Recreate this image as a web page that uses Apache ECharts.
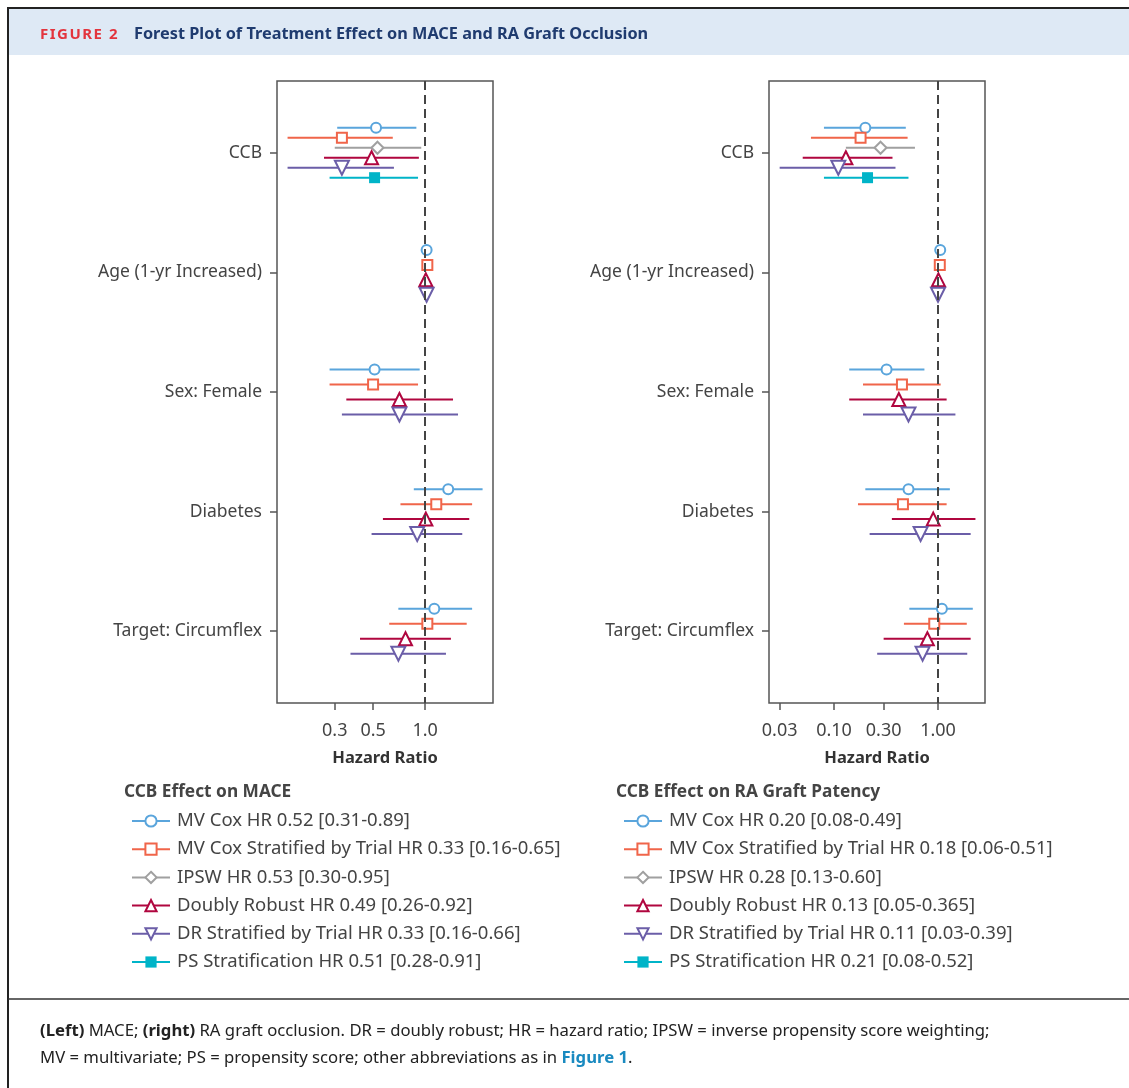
<!DOCTYPE html>
<html>
<head>
<meta charset="utf-8">
<script src="https://cdn.jsdelivr.net/npm/echarts@6/dist/echarts.min.js"></script>
<style>
  html, body { margin: 0; padding: 0; background: #fff; }
  #chart { width: 1129px; height: 1088px; }
</style>
</head>
<body>
<div id="chart"></div>
<script>
// rows: categories top to bottom
var categories = ['CCB', 'Age (1-yr Increased)', 'Sex: Female', 'Diabetes', 'Target: Circumflex'];

// each entry is [HR, lower, upper] per category, null = not shown
var maceMvCox      = [[0.52, 0.31, 0.89], [1.02, 1.01, 1.03], [0.51, 0.28, 0.93], [1.36, 0.86, 2.15], [1.13, 0.70, 1.87]];
var maceMvCoxTrial = [[0.33, 0.16, 0.65], [1.03, 1.02, 1.04], [0.50, 0.28, 0.91], [1.16, 0.72, 1.87], [1.03, 0.62, 1.74]];
var maceIpsw       = [[0.53, 0.30, 0.95], null, null, null, null];
var maceDr         = [[0.49, 0.26, 0.92], [1.01, 1.00, 1.02], [0.71, 0.35, 1.45], [1.01, 0.57, 1.80], [0.77, 0.42, 1.41]];
var maceDrTrial    = [[0.33, 0.16, 0.66], [1.02, 1.01, 1.03], [0.71, 0.33, 1.55], [0.90, 0.49, 1.64], [0.70, 0.37, 1.32]];
var macePs         = [[0.51, 0.28, 0.91], null, null, null, null];

var raMvCox      = [[0.20, 0.08, 0.49], [1.05, 1.03, 1.07], [0.32, 0.14, 0.74], [0.52, 0.20, 1.30], [1.09, 0.53, 2.16]];
var raMvCoxTrial = [[0.18, 0.06, 0.51], [1.04, 1.02, 1.06], [0.45, 0.19, 1.06], [0.46, 0.17, 1.21], [0.92, 0.47, 1.89]];
var raIpsw       = [[0.28, 0.13, 0.60], null, null, null, null];
var raDr         = [[0.13, 0.05, 0.365], [1.01, 0.99, 1.03], [0.42, 0.14, 1.21], [0.90, 0.36, 2.29], [0.79, 0.30, 2.06]];
var raDrTrial    = [[0.11, 0.03, 0.39], [1.00, 0.98, 1.02], [0.52, 0.19, 1.47], [0.68, 0.22, 2.06], [0.71, 0.26, 1.91]];
var raPs         = [[0.21, 0.08, 0.52], null, null, null, null];

var maceLegend = [
  'MV Cox HR 0.52 [0.31-0.89]',
  'MV Cox Stratified by Trial HR 0.33 [0.16-0.65]',
  'IPSW HR 0.53 [0.30-0.95]',
  'Doubly Robust HR 0.49 [0.26-0.92]',
  'DR Stratified by Trial HR 0.33 [0.16-0.66]',
  'PS Stratification HR 0.51 [0.28-0.91]'
];
var raLegend = [
  'MV Cox HR 0.20 [0.08-0.49]',
  'MV Cox Stratified by Trial HR 0.18 [0.06-0.51]',
  'IPSW HR 0.28 [0.13-0.60]',
  'Doubly Robust HR 0.13 [0.05-0.365]',
  'DR Stratified by Trial HR 0.11 [0.03-0.39]',
  'PS Stratification HR 0.21 [0.08-0.52]'
];

var maceTicks = [0.3, 0.5, 1.0];
var raTicks = [0.03, 0.10, 0.30, 1.00];

var FONT = 'Noto Sans';

// marker look per method
var styles = [
  { color: '#5aa5dc', symbol: 'emptyCircle', size: 10, rotate: 0 },
  { color: '#f0654a', symbol: 'emptyRect', size: 10, rotate: 0 },
  { color: '#a0a0a0', symbol: 'emptyDiamond', size: 12, rotate: 0 },
  { color: '#b0063f', symbol: 'emptyTriangle', size: 13, rotate: 0 },
  { color: '#6b5ea8', symbol: 'emptyTriangle', size: 14, rotate: 180 },
  { color: '#00b4c8', symbol: 'rect', size: 11, rotate: 0 }
];

function makeSeries(rows, names, idx) {
  var out = [];
  // dashed reference at HR = 1
  out.push({
    type: 'line', xAxisIndex: idx, yAxisIndex: idx, data: [], z: 1, silent: true,
    markLine: {
      silent: true, symbol: 'none', label: { show: false },
      lineStyle: { color: '#444', width: 2, type: [9, 5] },
      data: [{ xAxis: 1 }]
    }
  });
  rows.forEach(function (row, m) {
    var st = styles[m];
    var data = [];
    categories.forEach(function (c, ci) {
      if (!row[ci]) return;
      // dodge inside the category band
      var present = rows.filter(function (r) { return r[ci]; });
      var n = present.length;
      var k = present.indexOf(row);
      var y = ci + (k - (n - 1) / 2) * (0.5 / n);
      data.push({ value: [row[ci][1], y], symbol: 'none' });
      data.push({ value: [row[ci][0], y] });
      data.push({ value: [row[ci][2], y], symbol: 'none' });
      data.push(['-', '-']);
    });
    out.push({
      type: 'line', name: names[m], xAxisIndex: idx, yAxisIndex: idx, z: 2,
      data: data, symbol: st.symbol, symbolSize: st.size, symbolRotate: st.rotate,
      showSymbol: true, showAllSymbol: true, connectNulls: false,
      color: st.color,
      lineStyle: { color: st.color, width: 2 },
      itemStyle: { color: st.color, borderWidth: 2 },
      emphasis: { disabled: true },
      animation: false
    });
  });
  return out;
}

function xAxisFor(idx, min, max, ticks, digits) {
  return {
    type: 'log', logBase: 10, gridIndex: idx, min: min, max: max,
    name: 'Hazard Ratio', nameLocation: 'middle', nameGap: 47,
    nameTextStyle: { fontFamily: FONT, fontSize: 16.5, fontWeight: 'bold', color: '#333' },
    axisLine: { show: false, onZero: false },
    axisTick: { show: true, length: 7, customValues: ticks, lineStyle: { color: '#555', width: 1.5 } },
    axisLabel: {
      customValues: ticks, margin: 19, fontFamily: FONT, fontSize: 18, color: '#444',
      formatter: function (v) { return Number(v).toFixed(digits); }
    },
    splitLine: { show: false }, minorTick: { show: false }
  };
}

function yAxisFor(idx) {
  var idxs = categories.map(function (c, i) { return i; });
  return {
    type: 'value', gridIndex: idx, min: -0.6, max: 4.6, inverse: true,
    axisLine: { show: false, onZero: false },
    axisTick: { show: true, length: 7, customValues: idxs, lineStyle: { color: '#555', width: 1.5 } },
    axisLabel: {
      customValues: idxs, margin: 15, fontFamily: FONT, fontSize: 17.5, color: '#444',
      formatter: function (v) { return categories[Math.round(v)]; }
    },
    splitLine: { show: false }
  };
}

function legendFor(left, names) {
  return {
    orient: 'vertical', left: left, top: 806, padding: 5,
    data: names, selectedMode: false,
    itemWidth: 38, itemHeight: 14, itemGap: 8.2,
    textStyle: { fontFamily: FONT, fontSize: 18.5, color: '#444', lineHeight: 20, padding: [0, 0, 0, 2] }
  };
}

var chart = echarts.init(document.getElementById('chart'));

var option = {
  animation: false,
  backgroundColor: '#fff',
  grid: [
    { left: 277, top: 81, width: 216, height: 622, show: true, borderColor: '#555', borderWidth: 1.5 },
    { left: 769, top: 81, width: 216, height: 622, show: true, borderColor: '#555', borderWidth: 1.5 }
  ],
  xAxis: [
    xAxisFor(0, 0.139, 2.47, maceTicks, 1),
    xAxisFor(1, 0.0237, 2.83, raTicks, 2)
  ],
  yAxis: [yAxisFor(0), yAxisFor(1)],
  legend: [legendFor(126, maceLegend), legendFor(618, raLegend)],
  series: makeSeries([maceMvCox, maceMvCoxTrial, maceIpsw, maceDr, maceDrTrial, macePs], maceLegend, 0)
    .concat(makeSeries([raMvCox, raMvCoxTrial, raIpsw, raDr, raDrTrial, raPs], raLegend, 1)),
  graphic: [
    { type: 'rect', shape: { x: 9, y: 9, width: 1120, height: 46 }, style: { fill: '#dee9f5' }, silent: true },
    { type: 'line', shape: { x1: 7, y1: 8, x2: 1129, y2: 8 }, style: { stroke: '#222', lineWidth: 2 }, silent: true },
    { type: 'line', shape: { x1: 8, y1: 7, x2: 8, y2: 1088 }, style: { stroke: '#222', lineWidth: 2 }, silent: true },
    { type: 'line', shape: { x1: 8, y1: 999, x2: 1129, y2: 999 }, style: { stroke: '#333', lineWidth: 1.5 }, silent: true },
    {
      type: 'text', left: 40, top: 27, silent: true,
      style: { text: 'F\u200AI\u200AG\u200AU\u200AR\u200AE\u200A \u200A2', font: 'bold 15px "Noto Sans"', fill: '#e3343d' }
    },
    {
      type: 'text', left: 134, top: 26, silent: true,
      style: { text: 'Forest Plot of Treatment Effect on MACE and RA Graft Occlusion', font: 'bold 16.3px "Noto Sans"', fill: '#1f3b6f' }
    },
    {
      type: 'text', left: 124, top: 784, silent: true,
      style: { text: 'CCB Effect on MACE', font: 'bold 17.3px "Noto Sans"', fill: '#444' }
    },
    {
      type: 'text', left: 616, top: 784, silent: true,
      style: { text: 'CCB Effect on RA Graft Patency', font: 'bold 17.3px "Noto Sans"', fill: '#444' }
    },
    {
      type: 'text', left: 40, top: 1018, silent: true,
      style: {
        text: '{b|(Left)} MACE; {b|(right)} RA graft occlusion. DR = doubly robust; HR = hazard ratio; IPSW = inverse propensity score weighting;\nMV = multivariate; PS = propensity score; other abbreviations as in {l|Figure 1}.',
        font: '16.7px "Noto Sans"', fill: '#222', lineHeight: 27,
        rich: {
          b: { fontWeight: 'bold', fontFamily: FONT, fontSize: 16.7, fill: '#222', lineHeight: 27 },
          l: { fontWeight: 'bold', fontFamily: FONT, fontSize: 16.7, fill: '#1a8ac0', lineHeight: 27 }
        }
      }
    }
  ]
};

chart.setOption(option);
</script>
</body>
</html>
